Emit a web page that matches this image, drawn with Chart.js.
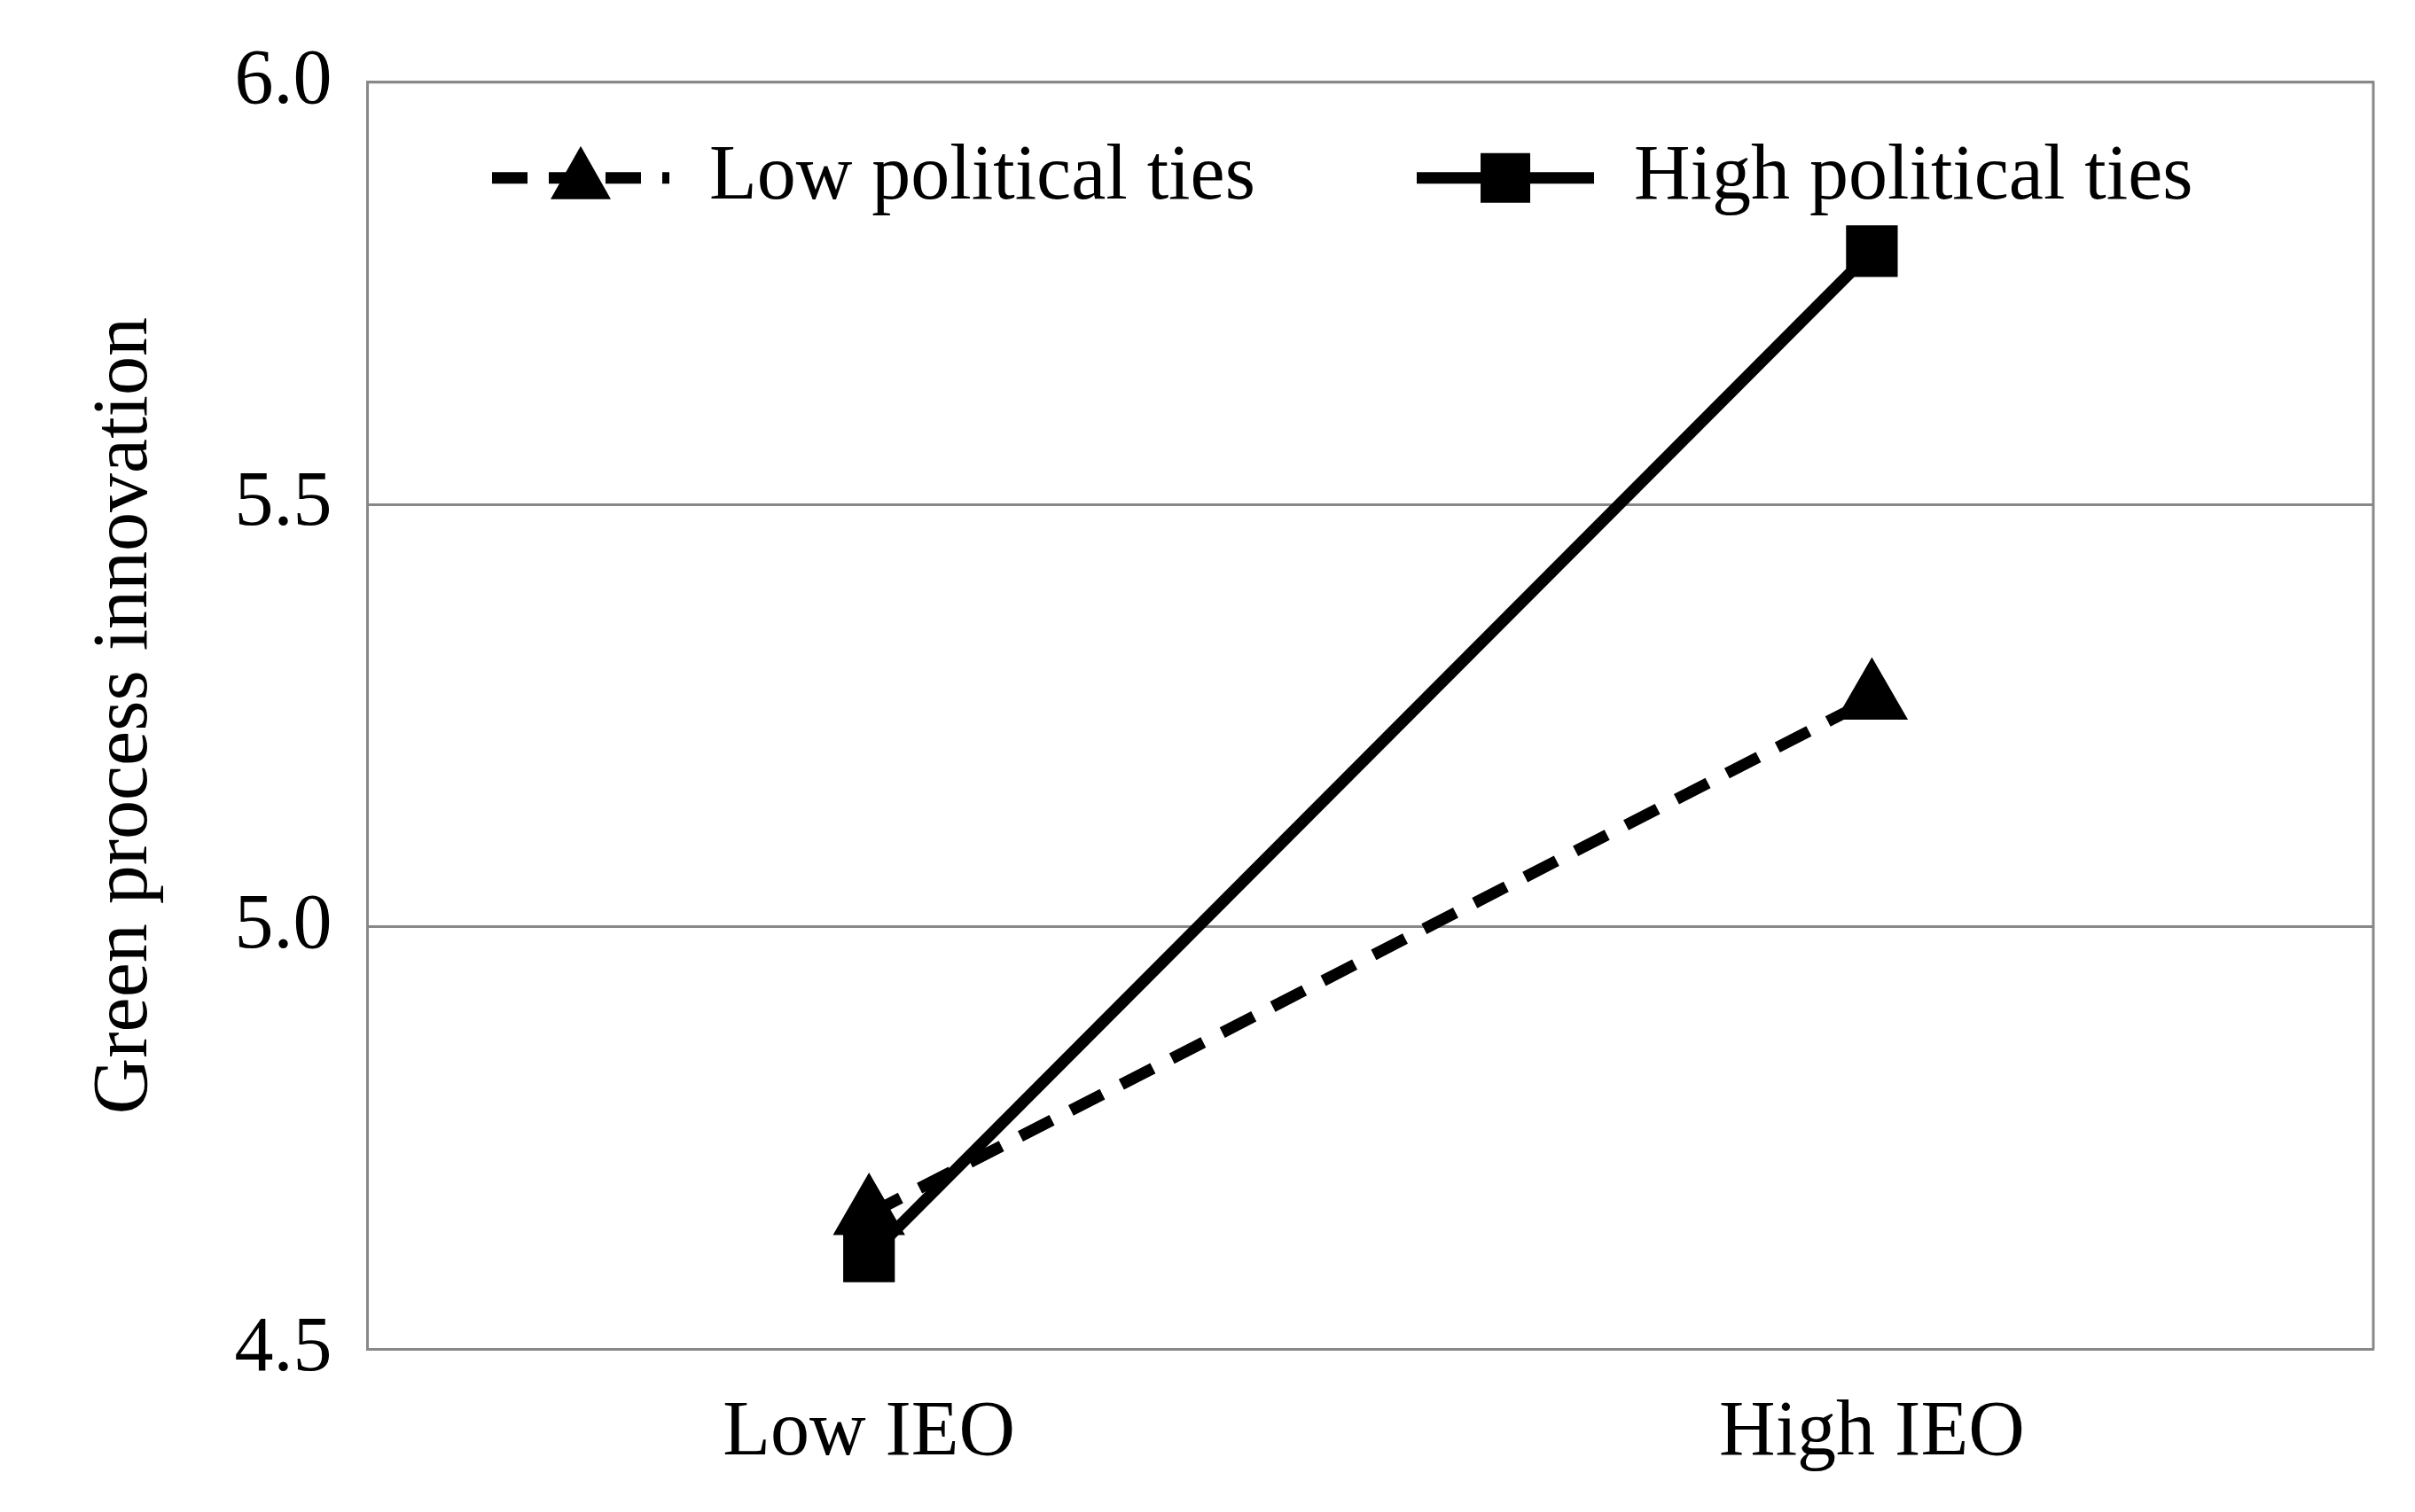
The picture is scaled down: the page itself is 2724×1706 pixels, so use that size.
<!DOCTYPE html>
<html>
<head>
<meta charset="utf-8">
<script src="https://cdn.jsdelivr.net/npm/chart.js@4"></script>
<style>
  body { margin: 0; background: #fff; }
  canvas { display: block; }
</style>
</head>
<body>
<canvas id="chart" width="2724" height="1706"></canvas>
<script>
const categories = ['Low IEO', 'High IEO'];
const lowTies = [4.66, 5.27];
const highTies = [4.61, 5.80];
const yTicks = [4.5, 5.0, 5.5, 6.0];

const fontFamily = '"Liberation Serif", "Times New Roman", serif';

// legend drawn inside the plot, line + marker like the original
const insideLegend = {
    id: 'insideLegend',
    afterDraw(chart) {
        const ctx = chart.ctx;
        const area = chart.chartArea;
        // top and right frame
        ctx.save();
        ctx.strokeStyle = '#888';
        ctx.lineWidth = 3;
        ctx.beginPath();
        ctx.moveTo(area.left, area.top);
        ctx.lineTo(area.right, area.top);
        ctx.lineTo(area.right, area.bottom);
        ctx.stroke();

        const y = area.top + 108;
        const items = [
            { ds: chart.data.datasets[0], x: 555 },
            { ds: chart.data.datasets[1], x: 1598 }
        ];
        ctx.font = '88px ' + fontFamily;
        ctx.fillStyle = '#000';
        ctx.textBaseline = 'middle';
        items.forEach(it => {
            ctx.strokeStyle = '#000';
            ctx.lineWidth = 13;
            ctx.setLineDash(it.ds.borderDash || []);
            ctx.beginPath();
            ctx.moveTo(it.x, y);
            ctx.lineTo(it.x + 200, y);
            ctx.stroke();
            ctx.setLineDash([]);
            const cx = it.x + 100;
            ctx.beginPath();
            if (it.ds.pointStyle === 'triangle') {
                ctx.moveTo(cx, y - 36);
                ctx.lineTo(cx + 34, y + 24);
                ctx.lineTo(cx - 34, y + 24);
                ctx.closePath();
            } else {
                ctx.rect(cx - 28, y - 28, 56, 56);
            }
            ctx.fill();
            ctx.fillText(it.ds.label, it.x + 245, y);
        });
        ctx.restore();
    }
};

new Chart(document.getElementById('chart'), {
    type: 'line',
    data: {
        labels: categories,
        datasets: [{
            label: 'Low political ties',
            data: lowTies,
            borderColor: '#000',
            backgroundColor: '#000',
            borderWidth: 13,
            borderDash: [40, 24],
            pointStyle: 'triangle',
            pointRadius: 34,
            pointHoverRadius: 34
        }, {
            label: 'High political ties',
            data: highTies,
            borderColor: '#000',
            backgroundColor: '#000',
            borderWidth: 13,
            pointStyle: 'rect',
            pointRadius: 32,
            pointHoverRadius: 32
        }]
    },
    options: {
        responsive: false,
        animation: false,
        layout: { padding: { left: 85, right: 26, top: 48, bottom: 0 } },
        plugins: {
            legend: { display: false },
            tooltip: { enabled: false }
        },
        scales: {
            x: {
                offset: true,
                grid: { display: false },
                border: { display: true, color: '#888', width: 3 },
                ticks: {
                    color: '#000',
                    padding: 35,
                    font: { family: fontFamily, size: 88 }
                }
            },
            y: {
                min: 4.5,
                max: 6.0,
                afterBuildTicks: axis => { axis.ticks = yTicks.map(v => ({ value: v })); },
                grid: { color: '#888', lineWidth: 3, drawTicks: false },
                border: { display: true, color: '#888', width: 3 },
                ticks: {
                    color: '#000',
                    padding: 40,
                    font: { family: fontFamily, size: 88 },
                    callback: v => v.toFixed(1)
                },
                title: {
                    display: true,
                    text: 'Green process innovation',
                    color: '#000',
                    padding: { bottom: 30 },
                    font: { family: fontFamily, size: 88 }
                }
            }
        }
    },
    plugins: [insideLegend]
});
</script>
</body>
</html>
